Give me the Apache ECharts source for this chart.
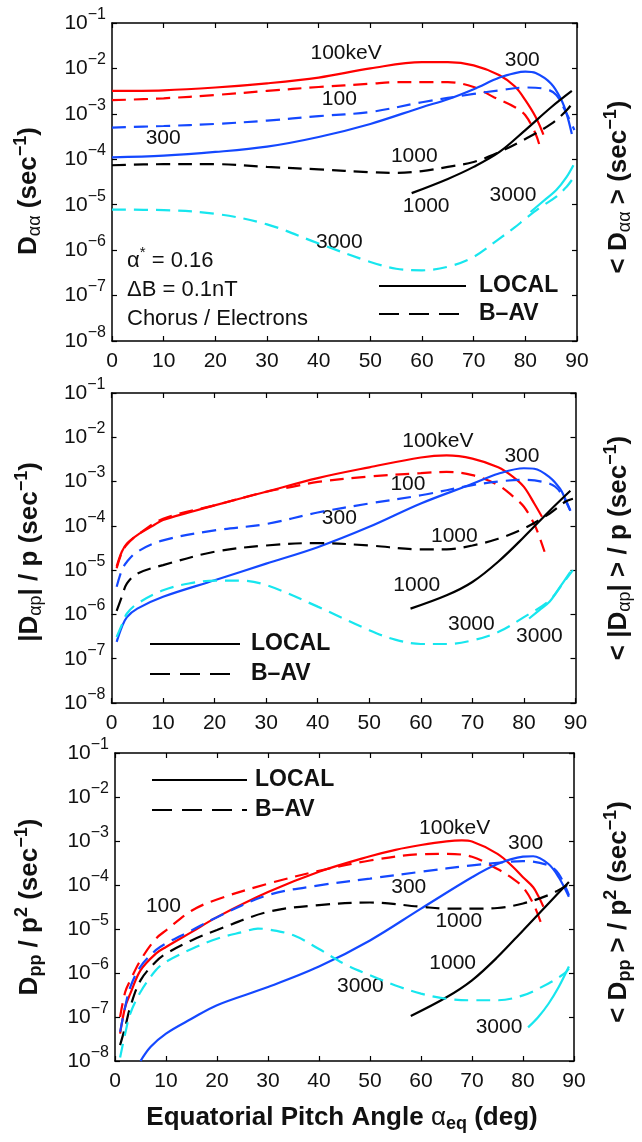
<!DOCTYPE html>
<html>
<head>
<meta charset="utf-8">
<script src="https://cdn.jsdelivr.net/npm/echarts@6/dist/echarts.min.js"></script>
<style>
  html, body { margin: 0; padding: 0; background: #fff; }
  #chart { width: 642px; height: 1142px; }
</style>
</head>
<body>
<div id="chart"></div>
<script>
// Chorus-wave diffusion coefficients for electrons: local vs bounce-averaged
const FONT = '"Liberation Sans", Arial, Helvetica, sans-serif';
const TXT = '#111111';
const RED = '#ff0000', BLUE = '#1448ff', BLACK = '#000000', CYAN = '#17e6ee';

const xTicks = [0, 10, 20, 30, 40, 50, 60, 70, 80, 90];
const yRange = [1e-8, 1e-1];

// ---- Pitch-angle diffusion D_aa (sec^-1) ----
const daa100Local = [[0,3.2e-3],[10,3.3e-3],[20,3.8e-3],[30,4.7e-3],[40,6.3e-3],[50,1.0e-2],[60,1.38e-2],[65,1.38e-2],[70,1.17e-2],[75,7.1e-3],[78,4.0e-3],[80,2.0e-3],[82,8.5e-4],[83.5,3.5e-4]];
const daa100Bav   = [[0,2.0e-3],[10,2.2e-3],[20,2.6e-3],[30,3.2e-3],[40,3.9e-3],[50,4.6e-3],[55,5.0e-3],[60,5.0e-3],[65,5.0e-3],[70,3.9e-3],[74,2.3e-3],[78,1.4e-3],[80,9.3e-4],[82,3.6e-4],[83,1.6e-4]];
const daa300Local = [[0,1.1e-4],[10,1.2e-4],[20,1.45e-4],[30,1.9e-4],[40,3.1e-4],[50,6.0e-4],[60,1.4e-3],[65,2.1e-3],[70,3.5e-3],[75,6.3e-3],[78,7.9e-3],[80,8.5e-3],[82,7.9e-3],[85,4.6e-3],[87,2.0e-3],[88,1.0e-3],[89,3.6e-4]];
const daa300Bav   = [[0,5.0e-4],[10,5.4e-4],[20,6.0e-4],[30,7.1e-4],[40,8.9e-4],[50,1.1e-3],[60,1.8e-3],[70,2.75e-3],[75,3.3e-3],[80,3.8e-3],[84,3.5e-3],[86,2.6e-3],[88,1.0e-3],[89.5,4.4e-4]];
const daa1000Local = [[58,1.8e-5],[65,3.7e-5],[70,6.8e-5],[75,1.45e-4],[80,4.4e-4],[85,1.4e-3],[89,3.2e-3]];
const daa1000Bav   = [[0,7.4e-5],[10,7.8e-5],[20,7.8e-5],[30,6.8e-5],[40,6.0e-5],[50,5.2e-5],[55,5.0e-5],[60,5.5e-5],[65,6.8e-5],[70,8.7e-5],[75,1.45e-4],[80,2.8e-4],[85,6.0e-4],[88,1.2e-3],[89.5,2.0e-3]];
const daa3000Local = [[81,6.9e-6],[84,1.35e-5],[86,2.1e-5],[88,4.1e-5],[89.3,7.4e-5]];
const daa3000Bav   = [[0,7.8e-6],[10,7.6e-6],[20,6.3e-6],[30,3.7e-6],[40,1.4e-6],[50,5.5e-7],[55,3.9e-7],[60,3.6e-7],[65,4.3e-7],[70,7.1e-7],[75,1.8e-6],[78,3.2e-6],[80,4.9e-6],[83,8.9e-6],[86,1.5e-5],[88,2.5e-5],[89,3.5e-5]];
const daaLabels = [[45.4,2.1e-2,'100keV'],[79.5,1.5e-2,'300'],[44.1,2.05e-3,'100'],[10.0,2.8e-4,'300'],[58.6,1.12e-4,'1000'],[60.9,9.1e-6,'1000'],[77.7,1.6e-5,'3000'],[44.1,1.45e-6,'3000']];

// ---- Mixed diffusion |D_ap| / p (sec^-1) ----
const dap100Local = [[1,1.2e-5],[2,2.6e-5],[3,4.0e-5],[5,6.2e-5],[8,1.0e-4],[10,1.35e-4],[15,2.0e-4],[20,2.9e-4],[30,5.9e-4],[40,1.2e-3],[50,2.1e-3],[60,3.5e-3],[65,3.9e-3],[70,3.3e-3],[75,2.1e-3],[78,1.25e-3],[80,7.6e-4],[82,3.2e-4],[83.5,1.6e-4]];
const dap100Bav   = [[1,1.1e-5],[2,2.5e-5],[3,3.8e-5],[5,6.2e-5],[10,1.45e-4],[20,2.9e-4],[30,5.9e-4],[35,7.6e-4],[40,9.8e-4],[50,1.3e-3],[60,1.55e-3],[65,1.65e-3],[70,1.4e-3],[75,8.3e-4],[78,4.5e-4],[80,2.7e-4],[82,1.1e-4],[83,5.6e-5],[84,2.6e-5]];
const dap300Local = [[1,2.4e-7],[2,5.2e-7],[3,8.7e-7],[5,1.35e-6],[10,2.5e-6],[20,5.9e-6],[30,1.4e-5],[40,3.3e-5],[50,9.5e-5],[60,3.2e-4],[70,8.9e-4],[75,1.5e-3],[80,2.0e-3],[82,1.95e-3],[85,1.25e-3],[87,6.9e-4],[88,4.1e-4],[89,2.2e-4]];
const dap300Bav   = [[1,4.2e-6],[2,1.0e-5],[3,1.55e-5],[5,2.6e-5],[10,4.7e-5],[20,7.9e-5],[30,1.1e-4],[40,2.0e-4],[50,3.2e-4],[60,4.9e-4],[70,8.3e-4],[75,1.0e-3],[80,1.1e-3],[85,8.9e-4],[87,5.9e-4],[89,2.2e-4]];
const dap1000Local = [[58,1.35e-6],[65,2.7e-6],[70,5.4e-6],[75,1.55e-5],[80,5.6e-5],[85,2.2e-4],[89,6.2e-4]];
const dap1000Bav   = [[1,1.2e-6],[2,2.5e-6],[3,5.0e-6],[5,8.3e-6],[10,1.3e-5],[20,2.6e-5],[30,3.6e-5],[40,4.1e-5],[50,3.6e-5],[60,2.95e-5],[65,2.95e-5],[70,3.6e-5],[75,5.1e-5],[80,8.7e-5],[85,1.9e-4],[88,3.5e-4],[89.5,4.1e-4]];
const dap3000Local = [[81,8.1e-7],[83,1.25e-6],[85,1.95e-6],[87,4.2e-6],[89,9.1e-6]];
const dap3000Bav   = [[1,3.1e-7],[2,5.8e-7],[3,1.05e-6],[5,1.75e-6],[10,3.5e-6],[15,5.0e-6],[20,5.8e-6],[25,5.8e-6],[30,4.6e-6],[40,1.5e-6],[50,4.4e-7],[55,2.7e-7],[60,2.15e-7],[65,2.15e-7],[70,2.6e-7],[75,4.0e-7],[80,8.7e-7],[85,2.1e-6],[88,5.9e-6],[89.5,1.0e-5]];
const dapLabels = [[63.4,7.8e-3,'100keV'],[79.7,3.7e-3,'300'],[57.6,8.5e-4,'100'],[44.3,1.45e-4,'300'],[66.6,5.6e-5,'1000'],[59.3,4.4e-6,'1000'],[69.9,5.8e-7,'3000'],[83.1,3.1e-7,'3000']];

// ---- Momentum diffusion D_pp / p^2 (sec^-1) ----
const dpp100Local = [[1,4.2e-8],[2,1.7e-7],[3,3.4e-7],[5,1.15e-6],[8,2.75e-6],[10,3.9e-6],[15,8.5e-6],[20,1.86e-5],[30,6.9e-5],[40,2.0e-4],[50,4.5e-4],[55,6.3e-4],[60,8.1e-4],[65,9.8e-4],[68,1.03e-3],[70,9.7e-4],[75,5.1e-4],[78,2.6e-4],[80,1.5e-4],[82,8.9e-5],[83,5.6e-5],[84,3.2e-5]];
const dpp100Bav   = [[1,1.0e-7],[2,3.7e-7],[3,6.8e-7],[5,1.95e-6],[8,6.0e-6],[10,9.3e-6],[15,2.6e-5],[20,4.7e-5],[30,1.07e-4],[40,2.1e-4],[50,3.6e-4],[60,5.0e-4],[65,5.1e-4],[70,4.4e-4],[75,2.3e-4],[78,1.4e-4],[80,8.9e-5],[82,3.8e-5],[83.5,1.4e-5]];
const dpp300Local = [[5,1.0e-8],[7,2.1e-8],[10,4.2e-8],[15,9.1e-8],[20,1.86e-7],[30,4.8e-7],[40,1.4e-6],[50,5.5e-6],[60,2.9e-5],[70,1.5e-4],[75,3.0e-4],[80,4.4e-4],[82,4.5e-4],[85,3.0e-4],[87,1.5e-4],[89,5.4e-5]];
const dpp300Bav   = [[1,4.6e-8],[2,1.7e-7],[3,4.8e-7],[5,1.4e-6],[8,3.3e-6],[10,4.7e-6],[15,9.3e-6],[20,1.86e-5],[30,5.9e-5],[40,9.8e-5],[50,1.4e-4],[60,2.0e-4],[70,2.8e-4],[75,3.2e-4],[80,3.5e-4],[85,2.8e-4],[87,1.8e-4],[89,5.9e-5]];
const dpp1000Local = [[58,1.05e-7],[65,2.8e-7],[70,6.8e-7],[75,2.3e-6],[80,9.3e-6],[85,3.8e-5],[89,1.17e-4]];
const dpp1000Bav   = [[1,2.3e-8],[2,5.9e-8],[3,1.7e-7],[5,6.8e-7],[8,1.8e-6],[10,2.75e-6],[15,5.5e-6],[20,9.5e-6],[30,2.45e-5],[40,3.5e-5],[50,4.0e-5],[60,3.2e-5],[65,2.9e-5],[70,2.9e-5],[75,3.0e-5],[80,3.8e-5],[85,5.9e-5],[88,8.9e-5],[89,1.07e-4]];
const dpp3000Local = [[81,5.8e-8],[83,1.0e-7],[85,2.0e-7],[87,4.8e-7],[89,1.4e-6]];
const dpp3000Bav   = [[1,1.2e-8],[2,4.2e-8],[3,1.2e-7],[5,3.7e-7],[8,1.15e-6],[10,1.8e-6],[15,3.5e-6],[20,6.0e-6],[25,8.5e-6],[28,1.02e-5],[30,9.8e-6],[35,7.2e-6],[40,3.5e-6],[45,1.6e-6],[50,8.9e-7],[55,5.2e-7],[60,3.4e-7],[65,2.6e-7],[70,2.4e-7],[75,2.4e-7],[80,3.1e-7],[85,5.8e-7],[88,9.5e-7],[89,1.26e-6]];
const dppLabels = [[66.7,1.9e-3,'100keV'],[80.6,8.9e-4,'300'],[57.7,8.5e-5,'300'],[9.6,3.2e-5,'100'],[67.5,1.45e-5,'1000'],[66.3,1.6e-6,'1000'],[48.2,4.8e-7,'3000'],[75.4,5.8e-8,'3000']];

// plot rectangles for the three stacked panels
const grids = [
  { left: 112, top: 23,  width: 465, height: 318 },
  { left: 111.5, top: 393, width: 464, height: 310 },
  { left: 115, top: 753, width: 459, height: 308 }
];

const panels = [
  { curves: [[daa100Local,RED,false],[daa100Bav,RED,true],[daa300Local,BLUE,false],[daa300Bav,BLUE,true],
             [daa1000Local,BLACK,false],[daa1000Bav,BLACK,true],[daa3000Local,CYAN,false],[daa3000Bav,CYAN,true]],
    labels: daaLabels },
  { curves: [[dap100Local,RED,false],[dap100Bav,RED,true],[dap300Local,BLUE,false],[dap300Bav,BLUE,true],
             [dap1000Local,BLACK,false],[dap1000Bav,BLACK,true],[dap3000Local,CYAN,false],[dap3000Bav,CYAN,true]],
    labels: dapLabels },
  { curves: [[dpp100Local,RED,false],[dpp100Bav,RED,true],[dpp300Local,BLUE,false],[dpp300Bav,BLUE,true],
             [dpp1000Local,BLACK,false],[dpp1000Bav,BLACK,true],[dpp3000Local,CYAN,false],[dpp3000Bav,CYAN,true]],
    labels: dppLabels }
];

const frameLine = { show: true, onZero: false, lineStyle: { color: '#000', width: 1.5 } };
const tickIn = { show: true, inside: true, length: 5, lineStyle: { color: '#000', width: 1.2 } };

const xAxes = [], yAxes = [], series = [];
grids.forEach((g, i) => {
  xAxes.push({
    gridIndex: i, type: 'value', position: 'bottom', min: xTicks[0], max: xTicks[xTicks.length - 1], interval: 10,
    axisLine: frameLine, axisTick: tickIn, splitLine: { show: false },
    axisLabel: { color: TXT, fontSize: 21, fontFamily: FONT, margin: 10 }
  });
  xAxes.push({
    gridIndex: i, type: 'value', position: 'top', min: xTicks[0], max: xTicks[xTicks.length - 1], interval: 10,
    axisLine: frameLine, axisTick: tickIn, splitLine: { show: false }, axisLabel: { show: false }
  });
  yAxes.push({
    gridIndex: i, type: 'log', logBase: 10, position: 'left', min: yRange[0], max: yRange[1],
    axisLine: frameLine, axisTick: tickIn, splitLine: { show: false },
    axisLabel: {
      margin: 6,
      formatter: v => {
        const e = Math.round(Math.log10(v));
        return '{b|10}{s|' + (e < 0 ? '\u2212' : '') + Math.abs(e) + '}';
      },
      rich: {
        b: { fontSize: 21, fontFamily: FONT, color: TXT },
        s: { fontSize: 16, fontFamily: FONT, color: TXT, padding: [0, 0, 17, 0] }
      }
    }
  });
  yAxes.push({
    gridIndex: i, type: 'log', logBase: 10, position: 'right', min: yRange[0], max: yRange[1],
    axisLine: frameLine, axisTick: tickIn, splitLine: { show: false }, axisLabel: { show: false }
  });

  panels[i].curves.forEach(([data, color, dashed]) => {
    series.push({
      type: 'line', xAxisIndex: 2 * i, yAxisIndex: 2 * i, data: data,
      showSymbol: false, smooth: 0.35, silent: true, clip: true,
      lineStyle: { color: color, width: 2.2, type: dashed ? [14, 8] : 'solid' }
    });
  });

  // energy tags placed in data coordinates
  series.push({
    type: 'scatter', xAxisIndex: 2 * i, yAxisIndex: 2 * i, silent: true, symbolSize: 1,
    itemStyle: { color: 'rgba(255,255,255,0)' },
    emphasis: { disabled: true },
    data: panels[i].labels.map(([x, y, t]) => ({ value: [x, y], name: t })),
    label: {
      show: true, position: [0, 0], align: 'center', verticalAlign: 'middle',
      formatter: '{b}', color: TXT, fontSize: 21, fontFamily: FONT,
      textBorderWidth: 0, opacity: 1
    }
  });
});

// rich text styles for the axis titles
const titleRich = (size) => ({
  b: { fontSize: size, fontWeight: 'bold', fontFamily: FONT, fill: TXT },
  a: { fontSize: Math.round(size * 0.7), fontFamily: FONT, fill: TXT, padding: [Math.round(size * 0.5), 0, 0, 0] },
  p: { fontSize: Math.round(size * 0.7), fontWeight: 'bold', fontFamily: FONT, fill: TXT, padding: [Math.round(size * 0.5), 0, 0, 0] },
  s: { fontSize: Math.round(size * 0.68), fontWeight: 'bold', fontFamily: FONT, fill: TXT, padding: [0, 0, Math.round(size * 0.6), 0] },
  g: { fontSize: size, fontFamily: FONT, fill: TXT }
});

function vTitle(x, y, text) {
  return {
    type: 'text', x: x, y: y, rotation: Math.PI / 2, silent: true,
    style: { text: text, rich: titleRich(26), align: 'center', verticalAlign: 'middle', fill: TXT, fontFamily: FONT }
  };
}

function legendBlock(x1, x2, y1, y2, tx) {
  return [
    { type: 'line', silent: true, shape: { x1: x1, y1: y1, x2: x2, y2: y1 }, style: { stroke: '#000', lineWidth: 2.2 } },
    { type: 'line', silent: true, shape: { x1: x1, y1: y2, x2: x2, y2: y2 }, style: { stroke: '#000', lineWidth: 2.2, lineDash: [20, 10] } },
    { type: 'text', silent: true, x: tx, y: y1, style: { text: 'LOCAL', fontSize: 23, fontWeight: 'bold', fontFamily: FONT, fill: TXT, verticalAlign: 'middle' } },
    { type: 'text', silent: true, x: tx, y: y2, style: { text: 'B\u2013AV', fontSize: 23, fontWeight: 'bold', fontFamily: FONT, fill: TXT, verticalAlign: 'middle' } }
  ];
}

const annRich = {
  t: { fontSize: 22, fontFamily: FONT, fill: TXT },
  s: { fontSize: 15, fontFamily: FONT, fill: TXT, padding: [0, 0, 16, 0] }
};

const graphic = [
  vTitle(29, 191, '{b|D}{a|\u03b1\u03b1}{b| (sec}{s|\u22121}{b|)}'),
  vTitle(619, 187, '{b|< D}{a|\u03b1\u03b1}{b| > (sec}{s|\u22121}{b|)}'),
  vTitle(30, 552, '{b||D}{a|\u03b1p}{b|| / p (sec}{s|\u22121}{b|)}'),
  vTitle(619, 548, '{b|< |D}{a|\u03b1p}{b|| > / p (sec}{s|\u22121}{b|)}'),
  vTitle(30, 907, '{b|D}{p|pp}{b| / p}{s|2}{b| (sec}{s|\u22121}{b|)}'),
  vTitle(619, 912, '{b|< D}{p|pp}{b| > / p}{s|2}{b| (sec}{s|\u22121}{b|)}'),
  {
    type: 'text', silent: true, x: 342, y: 1118,
    style: { text: '{b|Equatorial Pitch Angle }{g|\u03b1}{p|eq}{b| (deg)}', rich: titleRich(26), align: 'center', verticalAlign: 'middle', fill: TXT, fontFamily: FONT }
  },
  { type: 'text', silent: true, x: 127, y: 261, style: { text: '{t|\u03b1}{s|*}{t| = 0.16}', rich: annRich, verticalAlign: 'middle', fill: TXT } },
  { type: 'text', silent: true, x: 127, y: 290, style: { text: '\u0394B = 0.1nT', fontSize: 22, fontFamily: FONT, fill: TXT, verticalAlign: 'middle' } },
  { type: 'text', silent: true, x: 127, y: 319, style: { text: 'Chorus / Electrons', fontSize: 22, fontFamily: FONT, fill: TXT, verticalAlign: 'middle' } }
].concat(
  legendBlock(379, 466, 286, 314, 479),
  legendBlock(150, 240, 644, 674, 251),
  legendBlock(152, 247, 780, 810, 255)
);

const chart = echarts.init(document.getElementById('chart'), null, { renderer: 'canvas' });
chart.setOption({
  animation: false,
  backgroundColor: '#ffffff',
  grid: grids,
  xAxis: xAxes,
  yAxis: yAxes,
  series: series,
  graphic: graphic
});
</script>
</body>
</html>
